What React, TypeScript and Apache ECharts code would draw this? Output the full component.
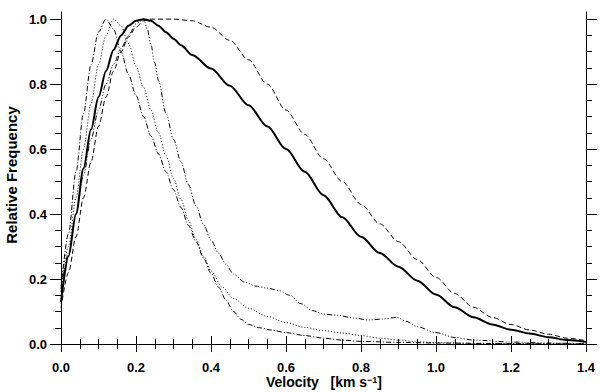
import React, { useEffect, useRef } from "react";
import * as echarts from "echarts";

// ---- data ----
const velA = [0, 0.02, 0.04, 0.06, 0.08, 0.10, 0.12, 0.14, 0.16, 0.18, 0.20, 0.22, 0.24, 0.26, 0.28, 0.30, 0.32, 0.35, 0.40, 0.45, 0.50, 0.55, 0.60, 0.65, 0.70, 0.75, 0.80, 0.85, 0.90, 0.95, 1.00, 1.05, 1.10, 1.15, 1.20, 1.25, 1.30, 1.35, 1.40];
const freqA = [0.13, 0.27, 0.40, 0.54, 0.66, 0.76, 0.84, 0.905, 0.95, 0.98, 0.995, 1.0, 0.995, 0.98, 0.96, 0.94, 0.92, 0.89, 0.848, 0.795, 0.735, 0.67, 0.60, 0.53, 0.458, 0.39, 0.33, 0.28, 0.238, 0.195, 0.152, 0.113, 0.082, 0.06, 0.044, 0.032, 0.021, 0.012, 0.006];

const velB = [0, 0.02, 0.04, 0.06, 0.08, 0.10, 0.12, 0.14, 0.16, 0.18, 0.20, 0.22, 0.24, 0.30, 0.35, 0.40, 0.45, 0.50, 0.55, 0.60, 0.65, 0.70, 0.75, 0.80, 0.85, 0.90, 0.95, 1.00, 1.05, 1.10, 1.15, 1.20, 1.25, 1.30, 1.35, 1.40];
const freqB = [0.11, 0.22, 0.33, 0.45, 0.56, 0.67, 0.76, 0.84, 0.90, 0.945, 0.975, 0.995, 1.0, 1.0, 0.995, 0.975, 0.935, 0.875, 0.80, 0.72, 0.645, 0.57, 0.50, 0.43, 0.37, 0.315, 0.26, 0.205, 0.155, 0.113, 0.082, 0.06, 0.043, 0.03, 0.018, 0.01];

const velC = [0, 0.02, 0.04, 0.06, 0.08, 0.10, 0.12, 0.14, 0.16, 0.18, 0.20, 0.22, 0.24, 0.26, 0.28, 0.30, 0.32, 0.34, 0.36, 0.38, 0.40, 0.42, 0.44, 0.46, 0.48, 0.50, 0.53, 0.56, 0.60, 0.65, 0.70, 0.75, 0.80, 0.90, 1.00, 1.20, 1.40];
const freqC = [0.17, 0.34, 0.53, 0.71, 0.86, 0.96, 1.0, 0.97, 0.90, 0.83, 0.765, 0.70, 0.64, 0.585, 0.53, 0.475, 0.42, 0.365, 0.315, 0.265, 0.218, 0.175, 0.135, 0.10, 0.076, 0.06, 0.05, 0.043, 0.035, 0.026, 0.018, 0.012, 0.008, 0.005, 0.003, 0.001, 0.0];

const velD = [0, 0.02, 0.04, 0.06, 0.08, 0.10, 0.12, 0.14, 0.16, 0.18, 0.20, 0.22, 0.24, 0.26, 0.28, 0.30, 0.32, 0.34, 0.36, 0.38, 0.40, 0.43, 0.46, 0.50, 0.55, 0.60, 0.65, 0.70, 0.75, 0.80, 0.85, 0.90, 0.95, 1.00, 1.10, 1.40];
const freqD = [0.18, 0.30, 0.45, 0.60, 0.74, 0.86, 0.95, 1.0, 0.98, 0.925, 0.855, 0.79, 0.72, 0.65, 0.58, 0.51, 0.445, 0.38, 0.322, 0.27, 0.225, 0.175, 0.14, 0.11, 0.085, 0.066, 0.051, 0.041, 0.034, 0.026, 0.018, 0.012, 0.007, 0.004, 0.002, 0.0];

const velE = [0, 0.02, 0.04, 0.06, 0.08, 0.10, 0.12, 0.14, 0.16, 0.18, 0.20, 0.22, 0.23, 0.24, 0.25, 0.26, 0.28, 0.30, 0.32, 0.34, 0.36, 0.38, 0.40, 0.42, 0.44, 0.46, 0.49, 0.52, 0.55, 0.58, 0.61, 0.64, 0.67, 0.70, 0.74, 0.78, 0.82, 0.86, 0.895, 0.92, 0.95, 1.00, 1.05, 1.10, 1.20, 1.30, 1.40];
const freqE = [0.16, 0.28, 0.40, 0.52, 0.63, 0.72, 0.80, 0.86, 0.91, 0.95, 0.985, 1.0, 0.97, 0.92, 0.865, 0.81, 0.71, 0.63, 0.56, 0.49, 0.425, 0.368, 0.32, 0.28, 0.245, 0.215, 0.19, 0.178, 0.172, 0.165, 0.15, 0.124, 0.103, 0.092, 0.088, 0.08, 0.074, 0.077, 0.082, 0.07, 0.053, 0.035, 0.02, 0.012, 0.006, 0.003, 0.001];

const xTicks = [0, 0.2, 0.4, 0.6, 0.8, 1.0, 1.2, 1.4];
const yMajor = [0, 0.2, 0.4, 0.6, 0.8, 1.0];
const yMinor = [0.05, 0.1, 0.15, 0.25, 0.3, 0.35, 0.45, 0.5, 0.55, 0.65, 0.7, 0.75, 0.85, 0.9, 0.95];
const yMax = 1.022;

const pairs = (xs: number[], ys: number[]) => xs.map((x, i) => [x, ys[i]]);

const FONT = "'Liberation Sans', Arial, Helvetica, sans-serif";

export default function App() {
  const ref = useRef<HTMLDivElement>(null);
  useEffect(() => {
    if (!ref.current) return;
    const chart = echarts.init(ref.current, null, { renderer: "svg" });
    const axisLine = { show: true, lineStyle: { color: "#000", width: 1 } };
    const xBase = {
      type: "value" as const,
      min: 0,
      max: 1.4,
      interval: 0.2,
      axisLine,
      splitLine: { show: false },
      minorSplitLine: { show: false },
      axisTick: { show: true, length: 8, lineStyle: { color: "#000", width: 1 } },
      minorTick: { show: true, splitNumber: 4, length: 5, lineStyle: { color: "#000", width: 1 } },
    };
    const yBase = {
      type: "value" as const,
      min: 0,
      max: yMax,
      axisLine,
      splitLine: { show: false },
    };
    const lineSeries = (data: number[][], type: any, width: number) => ({
      type: "line",
      data,
      showSymbol: false,
      symbol: "none",
      smooth: 0.3,
      smoothMonotone: "x",
      lineStyle: { color: "#000", width, type },
      xAxisIndex: 0,
      yAxisIndex: 0,
    });
    chart.setOption({
      animation: false,
      grid: { left: 61, right: 14, top: 12, bottom: 48, containLabel: false },
      xAxis: [
        {
          ...xBase,
          position: "bottom",
          axisLabel: {
            show: true,
            margin: 17,
            color: "#000",
            fontFamily: FONT,
            fontWeight: "bold",
            fontSize: 13,
            lineHeight: 13,
            formatter: (v: number) => (xTicks.some((t) => Math.abs(t - v) < 1e-6) ? v.toFixed(1) : ""),
          },
        },
        { ...xBase, position: "top", axisLabel: { show: false } },
      ],
      yAxis: [
        {
          ...yBase,
          position: "left",
          axisTick: { show: true, length: 11, customValues: yMajor, lineStyle: { color: "#000" } },
          axisLabel: {
            show: true,
            customValues: yMajor,
            margin: 14,
            color: "#000",
            fontFamily: FONT,
            fontWeight: "bold",
            fontSize: 13,
            formatter: (v: number) => v.toFixed(1),
          },
        },
        {
          ...yBase,
          position: "left",
          axisLine: { show: false },
          axisTick: { show: true, length: 6, customValues: yMinor, lineStyle: { color: "#000" } },
          axisLabel: { show: false },
        },
        {
          ...yBase,
          position: "right",
          axisTick: { show: true, length: 11, customValues: yMajor, lineStyle: { color: "#000" } },
          axisLabel: { show: false },
        },
        {
          ...yBase,
          position: "right",
          axisLine: { show: false },
          axisTick: { show: true, length: 6, customValues: yMinor, lineStyle: { color: "#000" } },
          axisLabel: { show: false },
        },
      ],
      series: [
        lineSeries(pairs(velB, freqB), [5, 3], 1),
        lineSeries(pairs(velC, freqC), [5, 2, 1, 2], 1),
        lineSeries(pairs(velD, freqD), [1, 2], 1),
        lineSeries(pairs(velE, freqE), [5, 2, 1, 2, 1, 2, 1, 2], 1),
        lineSeries(pairs(velA, freqA), "solid", 2),
      ],
      graphic: [
        {
          type: "text",
          x: 324,
          y: 382,
          style: {
            text: "{a|Velocity   [km s}{s|−1}{a|]}",
            align: "center",
            verticalAlign: "middle",
            rich: {
              a: { fontFamily: FONT, fontWeight: "bold", fontSize: 14, lineHeight: 14, fill: "#000" },
              s: { fontFamily: FONT, fontWeight: "bold", fontSize: 9, lineHeight: 10, verticalAlign: "top", fill: "#000" },
            },
          },
        },
        {
          type: "text",
          x: 11,
          y: 175,
          rotation: Math.PI / 2,
          style: {
            text: "Relative Frequency",
            align: "center",
            verticalAlign: "middle",
            fontFamily: FONT,
            fontWeight: "bold",
            fontSize: 15,
            fill: "#000",
          },
        },
      ],
    });
    return () => chart.dispose();
  }, []);
  return <div ref={ref} style={{ width: 600, height: 392, position: "absolute", left: 0, top: 0 }} />;
}
